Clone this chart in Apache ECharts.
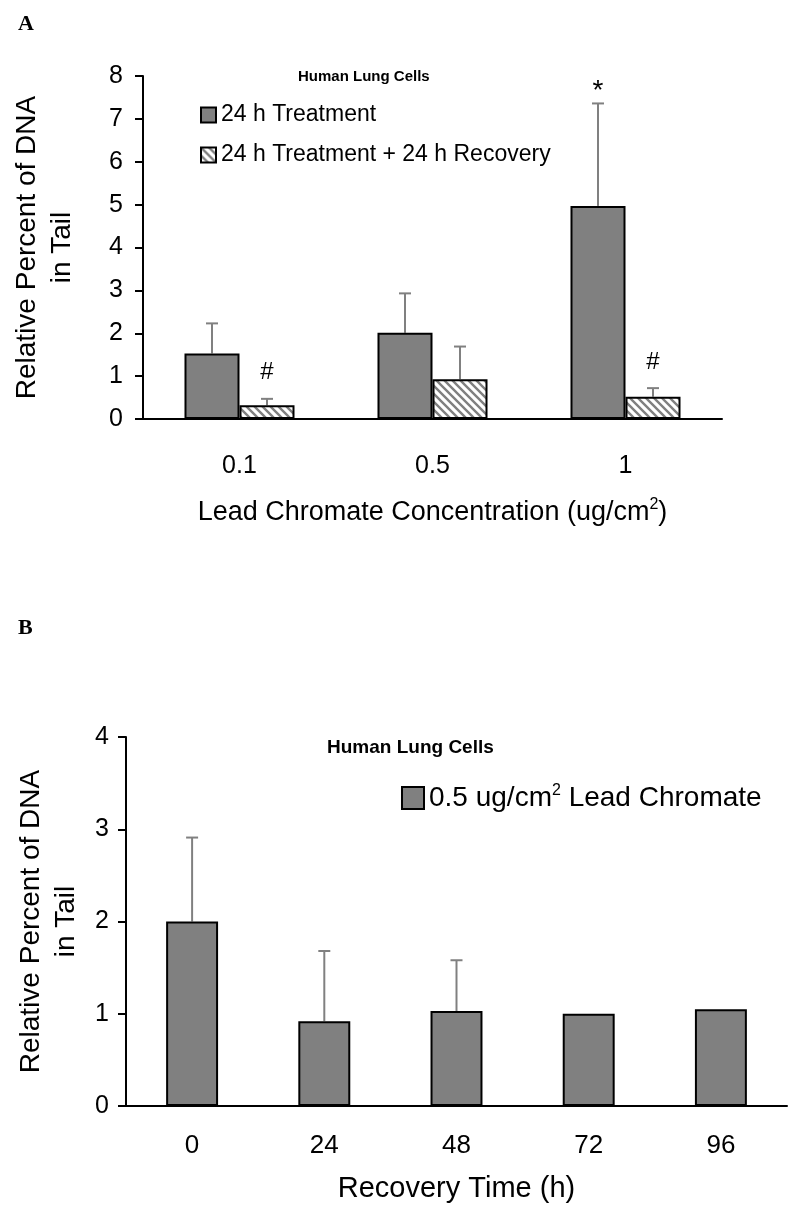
<!DOCTYPE html>
<html><head><meta charset="utf-8">
<script src="https://cdn.jsdelivr.net/npm/echarts@6/dist/echarts.min.js"></script>
<style>html,body{margin:0;padding:0;background:#fff}#c{width:800px;height:1215px}</style>
</head><body><div id="c"></div>
<script>
// ---------- Panel A data ----------
const concCategories = ['0.1', '0.5', '1'];
const treat24Values = [1.53, 2.01, 4.97];
const treat24Err = [0.70, 0.92, 2.39];
const recovValues = [0.32, 0.93, 0.52];
const recovErr = [0.15, 0.76, 0.20];
const aSeriesNames = ['24 h Treatment', '24 h Treatment + 24 h Recovery'];
const aMarks = [ // [category index, series index, symbol]
  [0, 1, '#'],
  [2, 1, '#'],
  [2, 0, '*']
];
// ---------- Panel B data ----------
const timeCategories = ['0', '24', '48', '72', '96'];
const timeValues = [2.00, 0.92, 1.03, 1.00, 1.05];
const timeErr = [0.91, 0.76, 0.55, null, null];
const bSeriesName = '0.5 ug/cm² Lead Chromate';

const SANS = 'Liberation Sans, Arial, Helvetica, sans-serif';
const NARROW = 'Liberation Sans Narrow, Arial Narrow, Liberation Sans, sans-serif';
const SERIF = 'Liberation Serif, Times New Roman, serif';

// hatch pattern
const pc = document.createElement('canvas');
pc.width = 8; pc.height = 8;
const g = pc.getContext('2d');
g.fillStyle = '#ffffff'; g.fillRect(0, 0, 8, 8);
g.strokeStyle = '#808080'; g.lineWidth = 2.4;
g.beginPath();
g.moveTo(-2, -2); g.lineTo(10, 10);
g.moveTo(-10, -2); g.lineTo(2, 10);
g.moveTo(6, -2); g.lineTo(18, 10);
g.stroke();
const hatch = { image: pc, repeat: 'repeat' };

const BAR_A = 0.285, BAR_B = 0.393;
const aOffsets = [-BAR_A / 2, BAR_A / 2];

function errItem(offsets) {
  return function (params, api) {
    const e = api.value(2);
    if (e === null || e === undefined || isNaN(e)) return null;
    const cat = api.value(0), v = api.value(1), s = api.value(3);
    const bw = api.size([1, 0])[0];
    const x = api.coord([cat, 0])[0] + offsets[s] * bw;
    const y0 = api.coord([cat, v])[1], y1 = api.coord([cat, v + e])[1];
    return { type: 'group', children: [
      { type: 'line', shape: { x1: x, y1: y0, x2: x, y2: y1 }, style: { stroke: '#808080', lineWidth: 2 } },
      { type: 'line', shape: { x1: x - 6, y1: y1, x2: x + 6, y2: y1 }, style: { stroke: '#808080', lineWidth: 2 } }
    ] };
  };
}

const aErrData = [];
concCategories.forEach((c, i) => {
  aErrData.push([i, treat24Values[i], treat24Err[i], 0]);
  aErrData.push([i, recovValues[i], recovErr[i], 1]);
});
const bErrData = timeCategories.map((c, i) => [i, timeValues[i], timeErr[i], 0]);
const aVals = [treat24Values, recovValues], aErrs = [treat24Err, recovErr];
const markData = aMarks.map(m => [m[0], aVals[m[1]][m[0]], aErrs[m[1]][m[0]], m[1], m[2]]);
const markGap = { '#': 26, '*': 12 };

const axisLineStyle = { lineStyle: { color: '#000', width: 2 } };

const chart = echarts.init(document.getElementById('c'), null, { renderer: 'canvas' });
chart.setOption({
  backgroundColor: '#fff',
  animation: false,
  title: [
    { text: 'A', left: 13, top: 8, textStyle: { fontFamily: SERIF, fontWeight: 'bold', fontSize: 22, color: '#000' } },
    { text: 'B', left: 13, top: 612, textStyle: { fontFamily: SERIF, fontWeight: 'bold', fontSize: 22, color: '#000' } },
    { text: 'Human Lung Cells', left: 293, top: 64, textStyle: { fontFamily: SANS, fontWeight: 'bold', fontSize: 15, color: '#000' } },
    { text: 'Human Lung Cells', left: 322, top: 733, textStyle: { fontFamily: NARROW, fontWeight: 'bold', fontSize: 19, color: '#000' } }
  ],
  legend: [
    { data: aSeriesNames, orient: 'vertical', left: 195, top: 97, itemWidth: 15, itemHeight: 15, itemGap: 14,
      textStyle: { fontFamily: SANS, fontSize: 23, color: '#000', lineHeight: 26 }, icon: 'rect' },
    { data: [bSeriesName], left: 396, top: 778, itemWidth: 22, itemHeight: 22, icon: 'rect',
      formatter: n => n.replace('²', '{sup|2}'),
      textStyle: { fontFamily: NARROW, fontSize: 28, color: '#000', rich: { sup: { fontFamily: NARROW, fontSize: 16, verticalAlign: 'top', padding: [0, 0, 14, 0] } } } }
  ],
  grid: [
    { left: 143, right: 78, top: 76, height: 343 },
    { left: 126, right: 13, top: 737, height: 369 }
  ],
  xAxis: [
    { type: 'category', gridIndex: 0, data: concCategories,
      axisLine: axisLineStyle, axisTick: { length: 9, lineStyle: { color: '#000', width: 2 } },
      axisLabel: { color: '#000', fontFamily: SANS, fontSize: 25, margin: 35 },
      name: 'Lead Chromate Concentration (ug/cm{sup|2})', nameLocation: 'middle', nameGap: 78,
      nameTextStyle: { color: '#000', fontFamily: SANS, fontSize: 27, rich: { sup: { fontFamily: SANS, fontSize: 16, verticalAlign: 'top', padding: [0, 0, 16, 0] } } } },
    { type: 'category', gridIndex: 1, data: timeCategories,
      axisLine: axisLineStyle, axisTick: { length: 9, lineStyle: { color: '#000', width: 2 } },
      axisLabel: { color: '#000', fontFamily: NARROW, fontSize: 26, margin: 27 },
      name: 'Recovery Time (h)', nameLocation: 'middle', nameGap: 68,
      nameTextStyle: { color: '#000', fontFamily: NARROW, fontSize: 29 } }
  ],
  yAxis: [
    { type: 'value', gridIndex: 0, min: 0, max: 8, interval: 1,
      axisLine: { show: true, lineStyle: { color: '#000', width: 2 } },
      axisTick: { show: true, length: 8, lineStyle: { color: '#000', width: 2 } },
      splitLine: { show: false },
      axisLabel: { color: '#000', fontFamily: SANS, fontSize: 25, margin: 20 },
      name: 'Relative Percent of DNA\nin Tail', nameLocation: 'middle', nameGap: 63,
      nameTextStyle: { color: '#000', fontFamily: SANS, fontSize: 28, lineHeight: 35 } },
    { type: 'value', gridIndex: 1, min: 0, max: 4, interval: 1,
      axisLine: { show: true, lineStyle: { color: '#000', width: 2 } },
      axisTick: { show: true, length: 8, lineStyle: { color: '#000', width: 2 } },
      splitLine: { show: false },
      axisLabel: { color: '#000', fontFamily: SANS, fontSize: 25, margin: 17 },
      name: 'Relative Percent of DNA\nin Tail', nameLocation: 'middle', nameGap: 42,
      nameTextStyle: { color: '#000', fontFamily: SANS, fontSize: 28, lineHeight: 35 } }
  ],
  series: [
    { name: aSeriesNames[0], type: 'bar', xAxisIndex: 0, yAxisIndex: 0, data: treat24Values,
      barWidth: (BAR_A * 100) + '%', barGap: '0%',
      itemStyle: { color: '#808080', borderColor: '#000', borderWidth: 2 } },
    { name: aSeriesNames[1], type: 'bar', xAxisIndex: 0, yAxisIndex: 0, data: recovValues,
      barWidth: (BAR_A * 100) + '%', barGap: '0%',
      itemStyle: { color: hatch, borderColor: '#000', borderWidth: 2 } },
    { type: 'custom', xAxisIndex: 0, yAxisIndex: 0, data: aErrData, z: 1, renderItem: errItem(aOffsets), silent: true },
    { type: 'custom', xAxisIndex: 0, yAxisIndex: 0, data: markData, z: 3, silent: true,
      renderItem: function (params, api) {
        const cat = api.value(0), v = api.value(1), e = api.value(2), s = api.value(3);
        const sym = markData[params.dataIndex][4];
        const bw = api.size([1, 0])[0];
        const x = api.coord([cat, 0])[0] + aOffsets[s] * bw;
        const y = api.coord([cat, v + e])[1] - markGap[sym];
        return { type: 'text', style: { text: sym, x: x, y: y, align: 'center', verticalAlign: 'middle',
          font: (sym === '*' ? '28px ' : '24px ') + SANS, fill: '#000' } };
      } },
    { name: bSeriesName, type: 'bar', xAxisIndex: 1, yAxisIndex: 1, data: timeValues,
      barWidth: (BAR_B * 100) + '%',
      itemStyle: { color: '#808080', borderColor: '#000', borderWidth: 2 } },
    { type: 'custom', xAxisIndex: 1, yAxisIndex: 1, data: bErrData, z: 1, renderItem: errItem([0]), silent: true }
  ]
});
</script></body></html>
